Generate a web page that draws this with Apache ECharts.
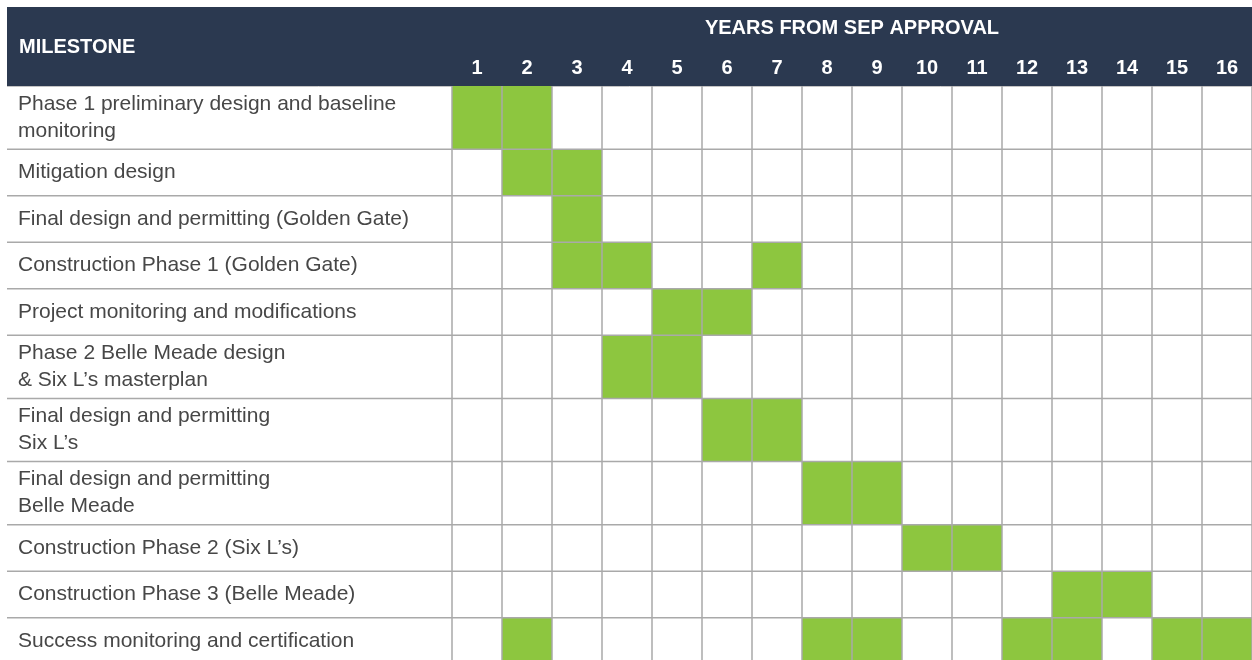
<!DOCTYPE html>
<html><head><meta charset="utf-8">
<script src="https://cdn.jsdelivr.net/npm/echarts@6/dist/echarts.min.js"></script>
<style>html,body{margin:0;padding:0;background:#fff}#chart{width:1252px;height:660px}</style>
</head><body><div id="chart"></div>
<script>
const headerTitle = 'YEARS FROM SEP APPROVAL';
const milestoneTitle = 'MILESTONE';
const years = ['1','2','3','4','5','6','7','8','9','10','11','12','13','14','15','16'];
const milestones = [
  'Phase 1 preliminary design and baseline\nmonitoring',
  'Mitigation design',
  'Final design and permitting (Golden Gate)',
  'Construction Phase 1 (Golden Gate)',
  'Project monitoring and modifications',
  'Phase 2 Belle Meade design\n& Six L\u2019s masterplan',
  'Final design and permitting\nSix L\u2019s',
  'Final design and permitting\nBelle Meade',
  'Construction Phase 2 (Six L\u2019s)',
  'Construction Phase 3 (Belle Meade)',
  'Success monitoring and certification'
];
const activeYears = [
  [1, 2],
  [2, 3],
  [3],
  [3, 4, 7],
  [5, 6],
  [4, 5],
  [6, 7],
  [8, 9],
  [10, 11],
  [13, 14],
  [2, 8, 9, 12, 13, 15, 16]
];

const NAVY = '#2b3950';
const GREEN = '#8dc63f';
const LINE = '#a9a9a9';
const TWO_LINE_UNITS = 1.359;
const ROW_PX = 46.5;

// row extents in axis units (two-line rows are taller)
const rowUnits = milestones.map(m => m.split('\n').length > 1 ? TWO_LINE_UNITS : 1);
const rowStart = [];
let acc = 0;
rowUnits.forEach(u => { rowStart.push(acc); acc += u; });
const totalUnits = acc;

const rowData = milestones.map((m, i) => [i, rowStart[i], rowStart[i] + rowUnits[i]]);
const cellData = [];
activeYears.forEach((ys, r) => {
  ys.forEach(y => {
    cellData.push([years.indexOf(String(y)), rowStart[r], rowStart[r] + rowUnits[r]]);
  });
});

const chart = echarts.init(document.getElementById('chart'));
chart.setOption({
  animation: false,
  backgroundColor: '#fff',
  grid: { left: 452, right: 0, top: 86, height: totalUnits * ROW_PX, outerBoundsMode: 'none', containLabel: false },
  graphic: [
    { type: 'rect', z: -10, shape: { x: 7, y: 7, width: 1245, height: 79 }, style: { fill: NAVY } },
    { type: 'text', z: 1, x: 19, y: 47, style: { text: milestoneTitle, fill: '#fff', font: 'bold 20px "Liberation Sans", Arial, sans-serif', verticalAlign: 'middle' } },
    { type: 'text', z: 1, x: 852, y: 28, style: { text: headerTitle, fill: '#fff', font: 'bold 20px "Liberation Sans", Arial, sans-serif', align: 'center', verticalAlign: 'middle' } },
    { type: 'line', z: 1, shape: { x1: 7, y1: 86.5, x2: 1252, y2: 86.5 }, style: { stroke: '#c4c4c4', lineWidth: 1 } }
  ],
  xAxis: {
    type: 'category',
    data: years,
    position: 'top',
    z: 5,
    axisLine: { show: false },
    axisTick: { show: false },
    axisLabel: { color: '#fff', fontWeight: 'bold', fontSize: 20, fontFamily: '"Liberation Sans", Arial, sans-serif', margin: 8 },
    splitLine: { show: true, lineStyle: { color: LINE, width: 1.5 } }
  },
  yAxis: {
    type: 'value', inverse: true, min: 0, max: totalUnits, show: false,
    splitLine: { show: false }
  },
  series: [
    {
      type: 'custom',
      z: 2,
      data: cellData,
      renderItem: function (params, api) {
        const cx = api.coord([api.value(0), 0])[0];
        const w = api.size([1, 0])[0];
        const y0 = api.coord([0, api.value(1)])[1];
        const y1 = api.coord([0, api.value(2)])[1];
        return { type: 'rect', shape: { x: cx - w / 2, y: y0, width: w, height: y1 - y0 }, style: { fill: GREEN } };
      }
    },
    {
      type: 'custom',
      z: 6,
      data: rowData,
      renderItem: function (params, api) {
        const cs = params.coordSys;
        const i = api.value(0);
        const y0 = api.coord([0, api.value(1)])[1];
        const y1 = api.coord([0, api.value(2)])[1];
        return {
          type: 'group',
          children: [
            { type: 'line', shape: { x1: 7, y1: y1, x2: cs.x + cs.width, y2: y1 }, style: { stroke: LINE, lineWidth: 1.5 } },
            { type: 'text', x: 18, y: (y0 + y1) / 2, style: { text: milestones[i], fill: '#474747', font: '21px "Liberation Sans", Arial, sans-serif', lineHeight: 27, verticalAlign: 'middle' } }
          ]
        };
      }
    }
  ]
});
</script></body></html>
